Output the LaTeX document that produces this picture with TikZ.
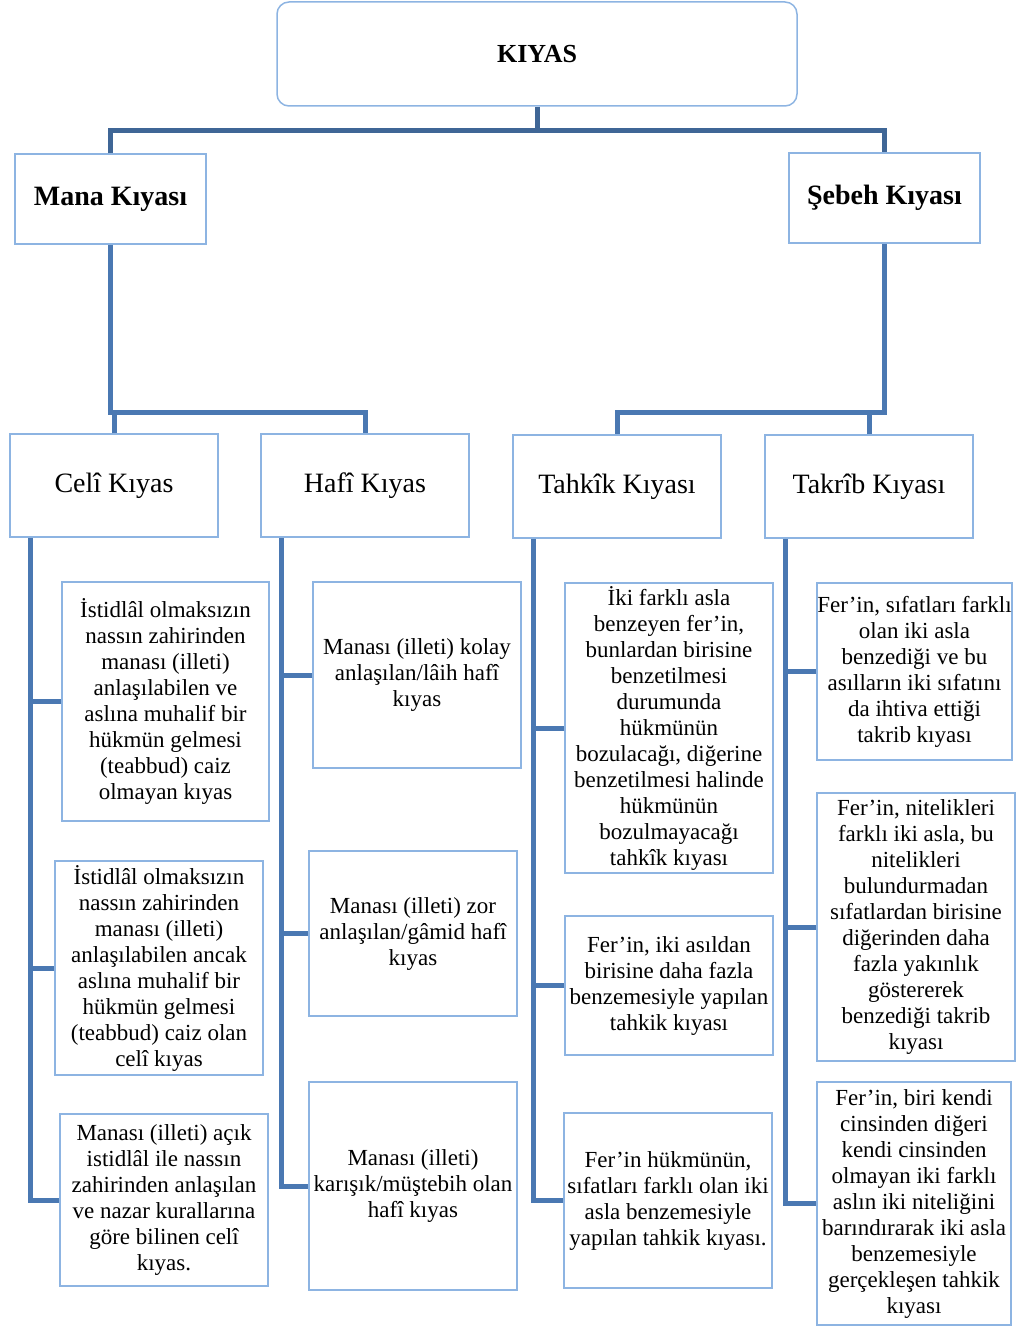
\documentclass[tikz,border=0pt]{standalone}
\usepackage{fontspec}
\setmainfont{Liberation Serif}
\usetikzlibrary{positioning}
\definecolor{boxblue}{RGB}{141,180,226}
\definecolor{linkblue}{RGB}{74,120,178}
\definecolor{darkblue}{RGB}{63,102,150}

\begin{document}
\begin{tikzpicture}[x=1pt,y=-1pt,line join=miter]
\tikzset{
    rootbox/.style = {draw=boxblue, line width=1.5pt, rounded corners=12pt, align=center,
                      font=\bfseries\fontsize{26}{30}\selectfont},
    mainbox/.style = {draw=boxblue, line width=1.5pt, align=center,
                      font=\bfseries\fontsize{28}{32}\selectfont},
    subbox/.style  = {draw=boxblue, line width=1.5pt, align=center,
                      font=\fontsize{28}{32}\selectfont},
    leafbox/.style = {draw=boxblue, line width=1.3pt, align=center, inner sep=0pt,
                      font=\fontsize{23}{26}\selectfont},
    conn/.style    = {draw=linkblue, line width=5pt},
    topconn/.style = {draw=darkblue, line width=5pt}
}
\useasboundingbox (0,0) rectangle (1019,1327);

% ust seviye
\node[rootbox, minimum width=520, minimum height=104] at (537,54) (kiyas) {KIYAS};
\node[mainbox, minimum width=191, minimum height=90] at (110.5,199) (mana) {Mana Kıyası};
\node[mainbox, minimum width=191, minimum height=90] at (884.5,198) (sebeh) {Şebeh Kıyası};

% ikinci seviye
\node[subbox, minimum width=208, minimum height=103] at (114,485.5) (celi) {Celî Kıyas};
\node[subbox, minimum width=208, minimum height=103] at (365,485.5) (hafi) {Hafî Kıyas};
\node[subbox, minimum width=208, minimum height=103] at (617,486.5) (tahkik) {Tahkîk Kıyası};
\node[subbox, minimum width=208, minimum height=103] at (869,486.5) (takrib) {Takrîb Kıyası};

% celi
\node[leafbox, minimum width=207, minimum height=239] at (165.5,701.5) (c1)
    {İstidlâl olmaksızın\\nassın zahirinden\\manası (illeti)\\anlaşılabilen ve\\aslına muhalif bir\\hükmün gelmesi\\(teabbud) caiz\\olmayan kıyas};
\node[leafbox, minimum width=208, minimum height=214] at (159,968) (c2)
    {İstidlâl olmaksızın\\nassın zahirinden\\manası (illeti)\\anlaşılabilen ancak\\aslına muhalif bir\\hükmün gelmesi\\(teabbud) caiz olan\\celî kıyas};
\node[leafbox, minimum width=208, minimum height=172] at (164,1200) (c3)
    {Manası (illeti) açık\\istidlâl ile nassın\\zahirinden anlaşılan\\ve nazar kurallarına\\göre bilinen celî\\kıyas.};

% hafi
\node[leafbox, minimum width=208, minimum height=186] at (417,675) (h1)
    {Manası (illeti) kolay\\anlaşılan/lâih hafî\\kıyas};
\node[leafbox, minimum width=208, minimum height=165] at (413,933.5) (h2)
    {Manası (illeti) zor\\anlaşılan/gâmid hafî\\kıyas};
\node[leafbox, minimum width=208, minimum height=208] at (413,1186) (h3)
    {Manası (illeti)\\karışık/müştebih olan\\hafî kıyas};

% tahkik
\node[leafbox, minimum width=208, minimum height=290] at (669,728) (t1)
    {İki farklı asla\\benzeyen fer’in,\\bunlardan birisine\\benzetilmesi\\durumunda\\hükmünün\\bozulacağı, diğerine\\benzetilmesi halinde\\hükmünün\\bozulmayacağı\\tahkîk kıyası};
\node[leafbox, minimum width=208, minimum height=139] at (669,985.5) (t2)
    {Fer’in, iki asıldan\\birisine daha fazla\\benzemesiyle yapılan\\tahkik kıyası};
\node[leafbox, minimum width=208, minimum height=175] at (668,1200.5) (t3)
    {Fer’in hükmünün,\\sıfatları farklı olan iki\\asla benzemesiyle\\yapılan tahkik kıyası.};

% takrib
\node[leafbox, minimum width=195, minimum height=177] at (914.5,671.5) (r1)
    {Fer’in, sıfatları farklı\\olan iki asla\\benzediği ve bu\\asılların iki sıfatını\\da ihtiva ettiği\\takrib kıyası};
\node[leafbox, minimum width=198, minimum height=268] at (916,927) (r2)
    {Fer’in, nitelikleri\\farklı iki asla, bu\\nitelikleri\\bulundurmadan\\sıfatlardan birisine\\diğerinden daha\\fazla yakınlık\\göstererek\\benzediği takrib\\kıyası};
\node[leafbox, minimum width=194, minimum height=243] at (914,1203.5) (r3)
    {Fer’in, biri kendi\\cinsinden diğeri\\kendi cinsinden\\olmayan iki farklı\\aslın iki niteliğini\\barındırarak iki asla\\benzemesiyle\\gerçekleşen tahkik\\kıyası};

% baglantilar
\coordinate (j0) at (537,131);
\draw[topconn] (kiyas.south) -- (j0);
\draw[topconn] (mana.north) |- (j0) -| (sebeh.north);

\coordinate (j1) at (110.5,412);
\draw[conn] (mana.south) |- (j1) -| (hafi.north);
\draw[conn] (celi.north) -- (celi.north |- j1);
\coordinate (j2) at (884.5,412);
\draw[conn] (sebeh.south) |- (j2) -| (tahkik.north);
\draw[conn] (takrib.north) -- (takrib.north |- j2);

\foreach \p/\a/\b/\c in {celi/c1/c2/c3, hafi/h1/h2/h3, tahkik/t1/t2/t3, takrib/r1/r2/r3} {
    \coordinate (\p-sp) at ([xshift=21pt]\p.south west);
    \draw[conn] (\p-sp) |- (\c.west);
    \draw[conn] (\a.west) -| (\p-sp);
    \draw[conn] (\b.west) -| (\p-sp);
}
\end{tikzpicture}
\end{document}
